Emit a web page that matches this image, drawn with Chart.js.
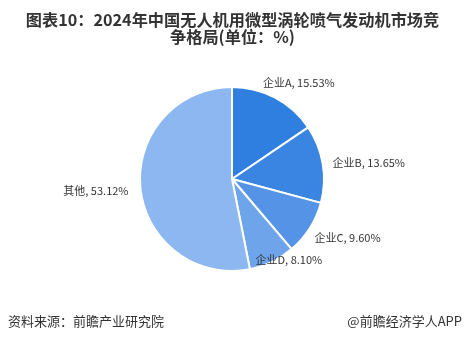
<!DOCTYPE html>
<html>
<head>
<meta charset="utf-8">
<script src="https://cdn.jsdelivr.net/npm/chart.js@4"></script>
<style>
  body { margin: 0; background: #fff; }
  #wrap { position: relative; width: 465px; height: 340px; font-family: "Noto Sans CJK SC", sans-serif; }
  #title { position: absolute; left: 0; top: 11px; width: 465px; text-align: center; font-size: 16.2px; font-weight: bold; line-height: 17px; color: #333; }
  .foot { position: absolute; top: 311px; font-size: 13px; color: #333; }
  canvas { position: absolute; left: 0; top: 0; }
</style>
</head>
<body>
<div id="wrap">
  <canvas id="c" width="465" height="340"></canvas>
  <div id="title">图表10：2024年中国无人机用微型涡轮喷气发动机市场竞<br>争格局(单位：%)</div>
  <div class="foot" style="left:8px">资料来源：前瞻产业研究院</div>
  <div class="foot" style="right:3px">@前瞻经济学人APP</div>
</div>
<script>
const companies = ['企业A', '企业B', '企业C', '企业D', '其他'];
const shares = [15.53, 13.65, 9.60, 8.10, 53.12];

const colors = ['#2e7fe0', '#3a85e2', '#5493e6', '#6da4ea', '#8db7f0'];
// small nudges so labels sit where the original put them
const labelShift = [[-16, -8], [2, 0], [-2, 5], [-20, -9], [-4, 2]];

const pieLabels = {
    id: 'pieLabels',
    afterDatasetsDraw(chart) {
        const ctx = chart.ctx;
        const meta = chart.getDatasetMeta(0);
        ctx.save();
        ctx.font = '11px "Noto Sans CJK SC"';
        ctx.fillStyle = '#333';
        ctx.textBaseline = 'middle';
        meta.data.forEach(function(arc, i) {
            const mid = (arc.startAngle + arc.endAngle) / 2;
            const r = arc.outerRadius + 8;
            const x = arc.x + Math.cos(mid) * r + labelShift[i][0];
            const y = arc.y + Math.sin(mid) * r + labelShift[i][1];
            ctx.textAlign = Math.cos(mid) >= 0 ? 'left' : 'right';
            ctx.fillText(companies[i] + ', ' + shares[i].toFixed(2) + '%', x, y);
        });
        ctx.restore();
    }
};

const chart = new Chart(document.getElementById('c'), {
    type: 'pie',
    data: {
        labels: companies,
        datasets: [{
            data: shares,
            backgroundColor: colors,
            borderColor: '#fff',
            borderWidth: 2
        }]
    },
    options: {
        responsive: false,
        animation: false,
        layout: { padding: { left: 139, right: 140, top: 86, bottom: 68 } },
        plugins: {
            legend: { display: false },
            tooltip: { enabled: false }
        }
    },
    plugins: [pieLabels]
});
</script>
</body>
</html>
